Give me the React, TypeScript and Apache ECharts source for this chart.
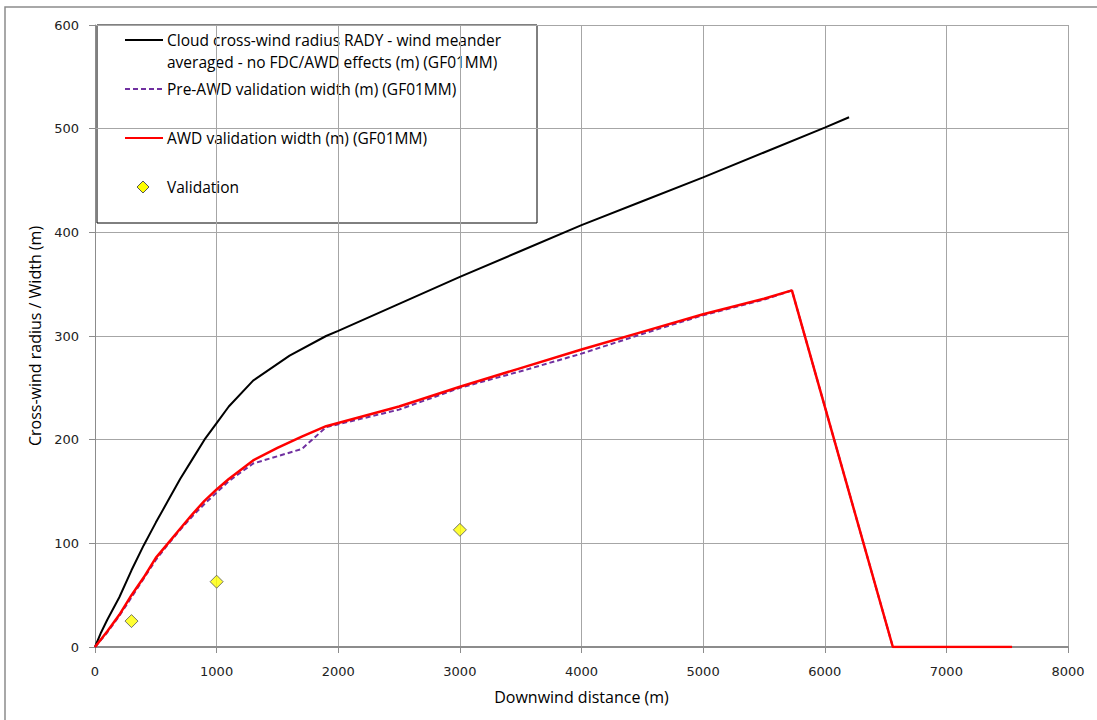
import React, { useEffect, useRef } from "react";
import * as echarts from "echarts";

// Downwind distance (m) / width (m) pairs for each series
const radyCurve: [number, number][] = [
  [0, 0], [50, 14], [100, 26], [200, 48], [300, 74], [400, 98], [500, 120],
  [600, 141], [700, 162], [800, 181], [900, 200], [1000, 216], [1100, 232],
  [1300, 257], [1600, 281], [1900, 300], [2000, 305], [2500, 331],
  [3000, 357], [3500, 382], [4000, 407], [4500, 430], [5000, 453],
  [5500, 477], [6000, 501], [6200, 511],
];

const preAwdWidth: [number, number][] = [
  [0, 0], [100, 14], [200, 30], [300, 48], [400, 66], [500, 84], [600, 99],
  [700, 113], [800, 126], [900, 138], [1000, 149], [1100, 160], [1300, 177],
  [1500, 184], [1700, 191], [1900, 212], [2500, 229], [3000, 250],
  [3500, 266], [4000, 283], [4500, 302], [5000, 320], [5500, 335],
  [5730, 344], [6560, 0], [7540, 0],
];

const awdWidth: [number, number][] = [
  [0, 0], [100, 15], [200, 31], [300, 50], [400, 67], [500, 86], [600, 100],
  [700, 114], [800, 128], [900, 141], [1000, 152], [1100, 162], [1300, 180],
  [1500, 192], [1700, 203], [1900, 213], [2500, 232], [3000, 251],
  [3500, 269], [4000, 287], [4500, 304], [5000, 321], [5500, 336],
  [5730, 344], [6560, 0], [7540, 0],
];

const validation: [number, number][] = [
  [300, 25], [1000, 63], [3000, 113],
];

const legendLabels = [
  "Cloud cross-wind radius RADY - wind meander\naveraged - no FDC/AWD effects (m) (GF01MM)",
  "Pre-AWD validation width (m) (GF01MM)",
  "AWD validation width (m) (GF01MM)",
  "Validation",
];

const GRID_LINE = "#a6a6a6";
const AXIS_LINE = "#8c8c8c";
const TEXT_FONT = "'Open Sans', sans-serif";

export default function App() {
  const ref = useRef<HTMLDivElement>(null);

  useEffect(() => {
    if (!ref.current) return;
    document.body.style.margin = "0";
    const chart = echarts.init(ref.current, undefined, { renderer: "svg" });

    const lx = 97;
    const ly = 25;
    const legendText = (y: number, text: string) => ({
      type: "text",
      x: 167,
      y,
      style: {
        text,
        font: `15.5px ${TEXT_FONT}`,
        fill: "#000",
        lineHeight: 22,
        verticalAlign: "middle",
      },
    });

    chart.setOption({
      animation: false,
      backgroundColor: "#fff",
      grid: { left: 95, right: 29, top: 25, bottom: 73, containLabel: false },
      xAxis: {
        type: "value",
        min: 0,
        max: 8000,
        interval: 1000,
        name: "Downwind distance (m)",
        nameLocation: "middle",
        nameGap: 42,
        nameTextStyle: { fontFamily: TEXT_FONT, fontSize: 16, color: "#000" },
        axisLine: { show: true, lineStyle: { color: AXIS_LINE, width: 2 } },
        axisTick: { show: true, length: 6, lineStyle: { color: AXIS_LINE } },
        axisLabel: {
          fontFamily: "'DejaVu Sans', sans-serif",
          fontSize: 13,
          color: "#222",
          margin: 18,
          formatter: (v: number) => String(v),
        },
        splitLine: { show: true, lineStyle: { color: GRID_LINE, width: 1 } },
      },
      yAxis: {
        type: "value",
        min: 0,
        max: 600,
        interval: 100,
        name: "Cross-wind radius / Width (m)",
        nameLocation: "middle",
        nameGap: 52,
        nameTextStyle: { fontFamily: TEXT_FONT, fontSize: 16, color: "#000" },
        axisLine: { show: true, lineStyle: { color: AXIS_LINE, width: 1 } },
        axisTick: { show: true, length: 6, lineStyle: { color: AXIS_LINE } },
        axisLabel: {
          fontFamily: "'DejaVu Sans', sans-serif",
          fontSize: 13,
          color: "#222",
          margin: 16,
        },
        splitLine: { show: true, lineStyle: { color: GRID_LINE, width: 1 } },
      },
      series: [
        {
          name: legendLabels[0],
          type: "line",
          data: radyCurve,
          showSymbol: false,
          symbol: "none",
          lineStyle: { color: "#000", width: 2 },
          z: 3,
        },
        {
          name: legendLabels[1],
          type: "line",
          data: preAwdWidth,
          showSymbol: false,
          symbol: "none",
          lineStyle: { color: "#7030a0", width: 2, type: [5, 3] },
          z: 3,
        },
        {
          name: legendLabels[2],
          type: "line",
          data: awdWidth,
          showSymbol: false,
          symbol: "none",
          lineStyle: { color: "#ff0000", width: 2.5 },
          z: 4,
        },
        {
          name: legendLabels[3],
          type: "scatter",
          data: validation,
          symbol: "diamond",
          symbolSize: [13, 13],
          itemStyle: { color: "#ffff00", borderColor: "#555", borderWidth: 1 },
          z: 5,
        },
      ],
      graphic: [
        // outer chart frame
        {
          type: "rect",
          shape: { x: 5, y: 7, width: 1200, height: 800 },
          style: { fill: "none", stroke: "#8c8c8c", lineWidth: 1.5 },
          silent: true,
          z: 0,
        },
        // legend box
        {
          type: "group",
          z: 100,
          children: [
            {
              type: "rect",
              shape: { x: lx, y: ly, width: 440, height: 198 },
              style: { fill: "#fff", stroke: "#000", lineWidth: 1 },
            },
            {
              type: "line",
              shape: { x1: 125, y1: 40, x2: 163, y2: 40 },
              style: { stroke: "#000", lineWidth: 2 },
            },
            legendText(51, legendLabels[0]),
            {
              type: "line",
              shape: { x1: 125, y1: 89, x2: 163, y2: 89 },
              style: { stroke: "#7030a0", lineWidth: 2, lineDash: [5, 3] },
            },
            legendText(89, legendLabels[1]),
            {
              type: "line",
              shape: { x1: 125, y1: 138, x2: 163, y2: 138 },
              style: { stroke: "#ff0000", lineWidth: 2 },
            },
            legendText(138, legendLabels[2]),
            {
              type: "polygon",
              shape: { points: [[143, 181], [149, 187], [143, 193], [137, 187]] },
              style: { fill: "#ffff00", stroke: "#555", lineWidth: 1 },
            },
            legendText(187, legendLabels[3]),
          ],
        },
      ],
    });

    return () => chart.dispose();
  }, []);

  return <div ref={ref} style={{ width: 1097, height: 720 }} />;
}
